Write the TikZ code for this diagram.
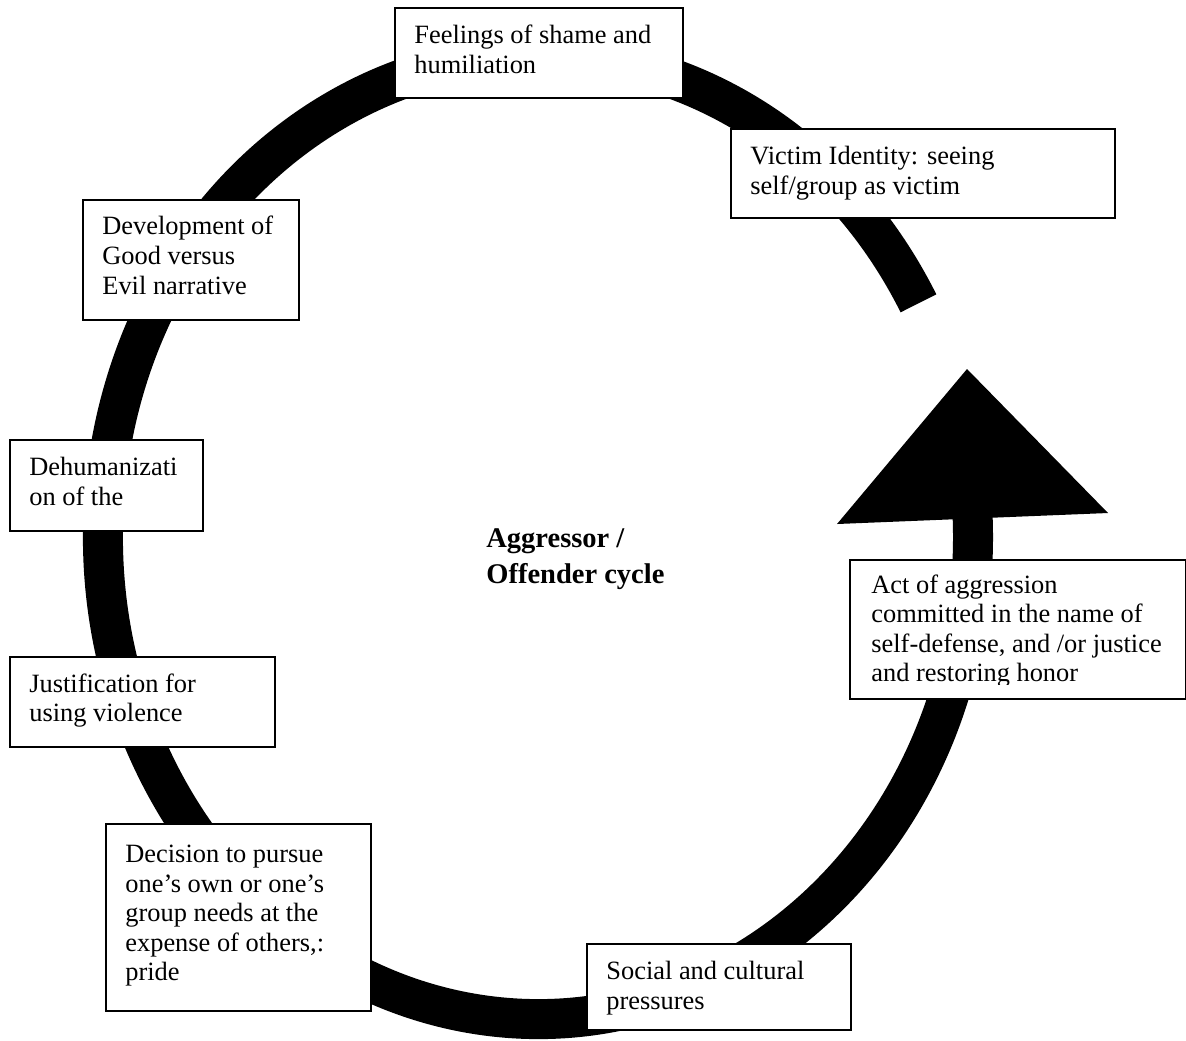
\documentclass[tikz,border=0pt]{standalone}
\usepackage{fontspec}
\setmainfont{Liberation Serif}
\usetikzlibrary{calc}
\usepackage{tkz-euclide}

\tikzset{
  stage/.style={draw=black,line width=1pt,fill=white,anchor=north west,inner sep=0pt},
  stagetext/.style={anchor=north west,inner sep=0pt,align=left,
    font=\fontsize{13.2}{14.75}\selectfont,execute at begin node=\strut},
  ring/.style={line width=20pt,black}
}

\begin{document}
\begin{tikzpicture}[x=0.5pt,y=-0.5pt]
\useasboundingbox (0,0) rectangle (1186,1040);

\tkzDefPoint(538,537){O}
\tkzDefPoint(967,369){T}
\tkzDefPoint(837,524){L}
\tkzDefPoint(1108,513){R}

\draw[ring] (O) ++(-29:435 and 482) arc[start angle=-29,end angle=-364,x radius=435,y radius=482];
\fill[black] (L) -- (T) -- (R) -- cycle;

\node[stage,minimum width=144pt,minimum height=45pt] (shame) at (394,7) {};
\node[stagetext] (shametxt) at ($(shame.north west)+(20,18)$) {Feelings of shame and\\humiliation};

\node[stage,minimum width=192pt,minimum height=44.5pt] (victim) at (730,128) {};
\node[stagetext] (victimtxt) at ($(victim.north west)+(20,18)$) {Victim Identity: seeing\\self/group as victim};

\node[stage,minimum width=108pt,minimum height=60pt] (narrative) at (82,199) {};
\node[stagetext] (narrativetxt) at ($(narrative.north west)+(20,17)$) {Development of\\Good versus\\Evil narrative};

\node[stage,minimum width=96.5pt,minimum height=45.5pt] (dehum) at (9,439) {};
\node[stagetext] (dehumtxt) at ($(dehum.north west)+(20,18)$) {Dehumanizati\\on of the};

\node[stage,minimum width=132.5pt,minimum height=45pt] (justify) at (9,656) {};
\node[stagetext] (justifytxt) at ($(justify.north west)+(20,17)$) {Justification for\\using violence};

\node[stage,minimum width=132.5pt,minimum height=93.5pt] (decide) at (105,823) {};
\node[stagetext] (decidetxt) at ($(decide.north west)+(20,22)$) {Decision to pursue\\one’s own or one’s\\group needs at the\\expense of others,:\\pride};

\node[stage,minimum width=132pt,minimum height=43pt] (social) at (586,943) {};
\node[stagetext] (socialtxt) at ($(social.north west)+(20,18)$) {Social and cultural\\pressures};

\node[stage,minimum width=168pt,minimum height=69.5pt] (act) at (849,559) {};
\begin{scope}
\clip (849,559) rectangle (1185,684);
\node[stagetext] (acttxt) at ($(act.north west)+(22,15)$) {Act of aggression\\committed in the name of\\self-defense, and /or justice\\and restoring honor};
\end{scope}

\node[anchor=north west,inner sep=0pt,align=left,font=\bfseries\fontsize{14.25}{18}\selectfont,
  execute at begin node=\strut] (cycle) at (486,528) {Aggressor /\\Offender cycle};

\end{tikzpicture}
\end{document}
